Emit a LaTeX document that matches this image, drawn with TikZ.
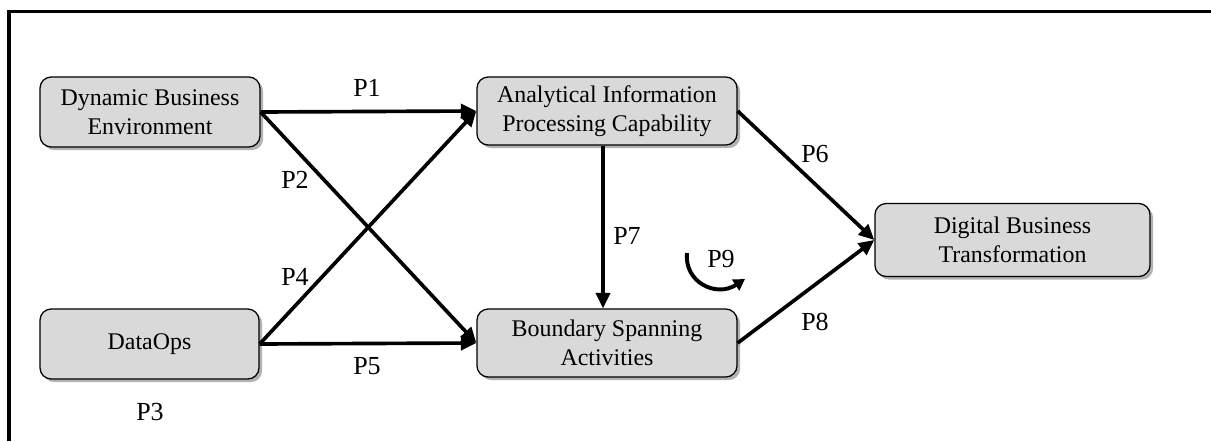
\documentclass[tikz,border=0pt]{standalone}
\usepackage{fontspec}
\setmainfont{Liberation Serif}
\usetikzlibrary{arrows.meta,shadows}
\begin{document}
\begin{tikzpicture}[x=0.025cm,y=-0.025cm,
  box/.style={draw=black,line width=0.9pt,rounded corners=8pt,fill=boxgray,
    align=center,inner sep=2pt,
    font=\fontsize{17}{20.6}\selectfont,
    drop shadow={shadow xshift=2.2pt,shadow yshift=-2.2pt,fill=black,opacity=0.3}},
  link/.style={line width=2.6pt,-{Triangle[length=11pt,width=10pt]}},
  plabel/.style={font=\fontsize{18.5}{20}\selectfont,inner sep=0pt}]
\definecolor{boxgray}{RGB}{217,217,217}
\useasboundingbox (0,0) rectangle (1211,441);
% frame
\draw[line width=2.6pt] (9,441) -- (9,11.5) -- (1211,11.5);
% nodes
\node[box,minimum width=5.5cm,minimum height=1.75cm] (dbe) at (150,112) {Dynamic Business\\Environment};
\node[box,minimum width=5.475cm,minimum height=1.75cm] (dops) at (149.5,344) {DataOps};
\node[box,minimum width=6.5cm,minimum height=1.7cm] (aipc) at (607,111) {Analytical Information\\Processing Capability};
\node[box,minimum width=6.5cm,minimum height=1.7cm] (bsa) at (607,343) {Boundary Spanning\\Activities};
\node[box,minimum width=6.875cm,minimum height=1.825cm] (dbt) at (1012.5,240) {Digital Business\\Transformation};
% connectors
\draw[link] (dbe.east) -- (aipc.west);
\draw[link] (dbe.east) -- (bsa.west);
\draw[link] (dops.east) -- (aipc.west);
\draw[link] (dops.east) -- (bsa.west);
\draw[link] ([xshift=-0.1cm]aipc.south) -- ([xshift=-0.1cm]bsa.north);
\draw[link] (aipc.east) -- (dbt.west);
\draw[link] (bsa.east) -- (dbt.west);
% P9 loop arrow
\coordinate (p9a) at (687,253);
\coordinate (p9b) at (745,279);
\draw[line width=2.8pt,-{Triangle[length=8pt,width=9pt]}] (p9a) .. controls (684,282) and (716,298) .. (p9b);
% labels
\node[plabel] (l1) at (367,88) {P1};
\node[plabel] (l2) at (295,180) {P2};
\node[plabel] (l3) at (150,412) {P3};
\node[plabel] (l4) at (295,277) {P4};
\node[plabel] (l5) at (367,366) {P5};
\node[plabel] (l6) at (815,154) {P6};
\node[plabel] (l7) at (627,236) {P7};
\node[plabel] (l8) at (815,322) {P8};
\node[plabel] (l9) at (721,259) {P9};
\end{tikzpicture}
\end{document}
